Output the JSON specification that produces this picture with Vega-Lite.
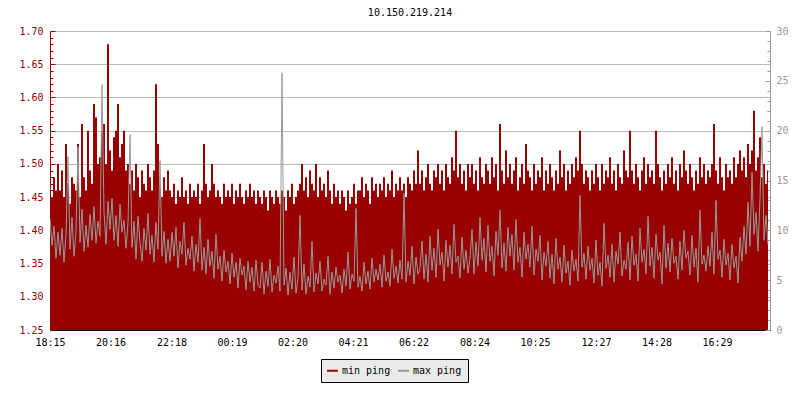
{
"$schema": "https://vega.github.io/schema/vega-lite/v6.json",
"width": 720,
"height": 299,
"autosize": {"type": "none"},
"padding": {"left": 50, "top": 31, "right": 30, "bottom": 70},
"background": "white",
"title": {"text": "10.150.219.214", "font": "DejaVu Sans Mono", "fontSize": 10, "fontWeight": "normal", "color": "black", "offset": 8},
"data": {"values": [
{"t":0,"min":1.47,"max":11.2},{"t":4,"min":1.45,"max":8.5},{"t":8,"min":1.48,"max":10.4},{"t":12,"min":1.46,"max":7.2},{"t":16,"min":1.50,"max":9.8},
{"t":20,"min":1.46,"max":7.5},{"t":24,"min":1.49,"max":10.2},{"t":28,"min":1.45,"max":6.8},{"t":32,"min":1.53,"max":9.6},{"t":36,"min":1.47,"max":17.4},
{"t":40,"min":1.44,"max":8.1},{"t":44,"min":1.48,"max":11.3},{"t":48,"min":1.47,"max":7.4},{"t":52,"min":1.46,"max":9.9},{"t":56,"min":1.53,"max":18.4},
{"t":60,"min":1.45,"max":8.8},{"t":64,"min":1.56,"max":12.1},{"t":68,"min":1.48,"max":7.9},{"t":72,"min":1.46,"max":10.5},{"t":76,"min":1.55,"max":8.3},
{"t":80,"min":1.49,"max":11.6},{"t":84,"min":1.47,"max":9.0},{"t":88,"min":1.59,"max":12.4},{"t":92,"min":1.57,"max":8.7},{"t":96,"min":1.50,"max":10.9},
{"t":100,"min":1.51,"max":9.4},{"t":104,"min":1.55,"max":24.6},{"t":108,"min":1.56,"max":11.8},{"t":112,"min":1.50,"max":8.6},{"t":116,"min":1.68,"max":12.9},
{"t":120,"min":1.52,"max":10.1},{"t":124,"min":1.49,"max":13.2},{"t":128,"min":1.54,"max":9.0},{"t":132,"min":1.55,"max":11.5},{"t":136,"min":1.59,"max":8.4},
{"t":140,"min":1.51,"max":12.6},{"t":144,"min":1.53,"max":9.8},{"t":148,"min":1.55,"max":11.0},{"t":152,"min":1.49,"max":8.2},{"t":156,"min":1.50,"max":10.7},
{"t":160,"min":1.47,"max":19.6},{"t":164,"min":1.49,"max":8.3},{"t":168,"min":1.46,"max":10.9},{"t":172,"min":1.50,"max":7.1},{"t":176,"min":1.48,"max":11.4},
{"t":180,"min":1.45,"max":8.8},{"t":184,"min":1.49,"max":6.9},{"t":188,"min":1.47,"max":10.2},{"t":192,"min":1.46,"max":8.0},{"t":196,"min":1.50,"max":11.7},
{"t":200,"min":1.48,"max":7.6},{"t":204,"min":1.46,"max":9.5},{"t":208,"min":1.49,"max":6.8},{"t":212,"min":1.62,"max":10.8},{"t":216,"min":1.53,"max":8.1},
{"t":220,"min":1.47,"max":17.0},{"t":224,"min":1.45,"max":7.4},{"t":228,"min":1.48,"max":9.9},{"t":232,"min":1.46,"max":6.7},{"t":236,"min":1.49,"max":9.1},
{"t":240,"min":1.46,"max":6.9},{"t":244,"min":1.45,"max":9.8},{"t":248,"min":1.47,"max":7.4},{"t":252,"min":1.44,"max":10.3},{"t":256,"min":1.46,"max":6.2},
{"t":260,"min":1.45,"max":8.9},{"t":264,"min":1.48,"max":7.6},{"t":268,"min":1.45,"max":10.8},{"t":272,"min":1.46,"max":6.5},{"t":276,"min":1.44,"max":8.2},
{"t":280,"min":1.47,"max":7.1},{"t":284,"min":1.45,"max":9.4},{"t":288,"min":1.46,"max":5.9},{"t":292,"min":1.45,"max":8.6},{"t":296,"min":1.47,"max":6.8},
{"t":300,"min":1.44,"max":11.2},{"t":304,"min":1.46,"max":6.0},{"t":308,"min":1.53,"max":8.3},{"t":312,"min":1.47,"max":5.6},{"t":316,"min":1.45,"max":9.1},
{"t":320,"min":1.46,"max":6.4},{"t":324,"min":1.50,"max":7.9},{"t":328,"min":1.47,"max":5.2},{"t":332,"min":1.45,"max":9.6},{"t":336,"min":1.46,"max":6.1},
{"t":340,"min":1.45,"max":7.4},{"t":344,"min":1.44,"max":4.9},{"t":348,"min":1.47,"max":8.0},{"t":352,"min":1.45,"max":5.8},{"t":356,"min":1.46,"max":6.9},
{"t":360,"min":1.45,"max":4.6},{"t":364,"min":1.47,"max":7.7},{"t":368,"min":1.44,"max":5.3},{"t":372,"min":1.46,"max":6.8},{"t":376,"min":1.45,"max":4.2},
{"t":380,"min":1.47,"max":7.2},{"t":384,"min":1.45,"max":5.5},{"t":388,"min":1.44,"max":6.4},{"t":392,"min":1.46,"max":4.0},{"t":396,"min":1.45,"max":6.9},
{"t":400,"min":1.47,"max":4.8},{"t":404,"min":1.45,"max":6.3},{"t":408,"min":1.46,"max":3.9},{"t":412,"min":1.44,"max":7.0},{"t":416,"min":1.46,"max":4.5},
{"t":420,"min":1.45,"max":4.2},{"t":424,"min":1.44,"max":6.8},{"t":428,"min":1.46,"max":3.6},{"t":432,"min":1.45,"max":5.9},{"t":436,"min":1.43,"max":4.4},
{"t":440,"min":1.46,"max":7.1},{"t":444,"min":1.45,"max":3.8},{"t":448,"min":1.44,"max":5.5},{"t":452,"min":1.46,"max":4.7},{"t":456,"min":1.45,"max":6.4},
{"t":460,"min":1.44,"max":3.9},{"t":464,"min":1.46,"max":25.8},{"t":468,"min":1.45,"max":4.5},{"t":472,"min":1.43,"max":6.2},{"t":476,"min":1.46,"max":3.5},
{"t":480,"min":1.45,"max":5.8},{"t":484,"min":1.47,"max":4.1},{"t":488,"min":1.44,"max":7.3},{"t":492,"min":1.45,"max":3.7},{"t":496,"min":1.46,"max":5.2},
{"t":500,"min":1.47,"max":11.5},{"t":504,"min":1.50,"max":4.0},{"t":508,"min":1.46,"max":6.6},{"t":512,"min":1.48,"max":3.6},{"t":516,"min":1.45,"max":5.4},
{"t":520,"min":1.49,"max":4.3},{"t":524,"min":1.47,"max":8.9},{"t":528,"min":1.46,"max":3.8},{"t":532,"min":1.50,"max":5.7},{"t":536,"min":1.45,"max":4.6},
{"t":540,"min":1.48,"max":6.9},{"t":544,"min":1.46,"max":3.9},{"t":548,"min":1.47,"max":5.1},{"t":552,"min":1.45,"max":4.5},{"t":556,"min":1.49,"max":7.4},
{"t":560,"min":1.46,"max":3.6},{"t":564,"min":1.44,"max":5.8},{"t":568,"min":1.47,"max":4.2},{"t":572,"min":1.45,"max":6.3},{"t":576,"min":1.46,"max":4.8},
{"t":580,"min":1.44,"max":5.5},{"t":584,"min":1.46,"max":3.7},{"t":588,"min":1.45,"max":6.1},{"t":592,"min":1.43,"max":4.4},{"t":596,"min":1.46,"max":7.8},
{"t":600,"min":1.44,"max":4.1},{"t":604,"min":1.45,"max":5.6},{"t":608,"min":1.47,"max":4.9},{"t":612,"min":1.44,"max":12.2},{"t":616,"min":1.46,"max":4.3},
{"t":620,"min":1.46,"max":5.4},{"t":624,"min":1.48,"max":3.9},{"t":628,"min":1.45,"max":6.8},{"t":632,"min":1.47,"max":4.6},{"t":636,"min":1.46,"max":5.9},
{"t":640,"min":1.44,"max":4.1},{"t":644,"min":1.48,"max":7.2},{"t":648,"min":1.46,"max":4.8},{"t":652,"min":1.47,"max":6.1},{"t":656,"min":1.45,"max":5.0},
{"t":660,"min":1.47,"max":6.6},{"t":664,"min":1.46,"max":4.3},{"t":668,"min":1.48,"max":7.5},{"t":672,"min":1.45,"max":4.9},{"t":676,"min":1.47,"max":5.8},
{"t":680,"min":1.46,"max":4.4},{"t":684,"min":1.49,"max":8.1},{"t":688,"min":1.45,"max":5.2},{"t":692,"min":1.47,"max":6.4},{"t":696,"min":1.46,"max":4.7},
{"t":700,"min":1.48,"max":7.0},{"t":704,"min":1.46,"max":5.1},{"t":708,"min":1.47,"max":13.7},{"t":712,"min":1.45,"max":4.8},{"t":716,"min":1.48,"max":6.9},
{"t":720,"min":1.47,"max":5.5},{"t":724,"min":1.46,"max":8.4},{"t":728,"min":1.49,"max":4.6},{"t":732,"min":1.47,"max":7.3},{"t":736,"min":1.52,"max":5.6},
{"t":740,"min":1.47,"max":6.2},{"t":744,"min":1.49,"max":8.9},{"t":748,"min":1.46,"max":5.1},{"t":752,"min":1.48,"max":7.6},{"t":756,"min":1.50,"max":4.8},
{"t":760,"min":1.47,"max":9.4},{"t":764,"min":1.46,"max":6.0},{"t":768,"min":1.49,"max":8.2},{"t":772,"min":1.48,"max":5.3},{"t":776,"min":1.50,"max":10.1},
{"t":780,"min":1.47,"max":6.5},{"t":784,"min":1.49,"max":7.8},{"t":788,"min":1.46,"max":4.9},{"t":792,"min":1.50,"max":9.0},{"t":796,"min":1.48,"max":6.3},
{"t":800,"min":1.47,"max":8.5},{"t":804,"min":1.51,"max":5.6},{"t":808,"min":1.49,"max":10.6},{"t":812,"min":1.55,"max":6.8},{"t":816,"min":1.48,"max":7.4},
{"t":820,"min":1.50,"max":5.2},{"t":824,"min":1.47,"max":9.3},{"t":828,"min":1.49,"max":6.1},{"t":832,"min":1.46,"max":8.0},{"t":836,"min":1.50,"max":5.7},
{"t":840,"min":1.48,"max":7.2},{"t":844,"min":1.50,"max":10.1},{"t":848,"min":1.47,"max":5.6},{"t":852,"min":1.49,"max":8.8},{"t":856,"min":1.46,"max":6.4},
{"t":860,"min":1.51,"max":11.3},{"t":864,"min":1.48,"max":7.0},{"t":868,"min":1.47,"max":9.2},{"t":872,"min":1.50,"max":5.8},{"t":876,"min":1.49,"max":10.5},
{"t":880,"min":1.47,"max":6.9},{"t":884,"min":1.51,"max":8.4},{"t":888,"min":1.48,"max":5.4},{"t":892,"min":1.50,"max":9.9},{"t":896,"min":1.46,"max":7.5},
{"t":900,"min":1.56,"max":12.0},{"t":904,"min":1.49,"max":6.2},{"t":908,"min":1.47,"max":8.7},{"t":912,"min":1.52,"max":5.9},{"t":916,"min":1.48,"max":10.3},
{"t":920,"min":1.50,"max":7.4},{"t":924,"min":1.47,"max":9.6},{"t":928,"min":1.49,"max":6.0},{"t":932,"min":1.51,"max":11.1},{"t":936,"min":1.46,"max":6.8},
{"t":940,"min":1.48,"max":8.3},{"t":944,"min":1.50,"max":5.3},{"t":948,"min":1.47,"max":9.8},{"t":952,"min":1.53,"max":7.1},{"t":956,"min":1.49,"max":8.6},
{"t":960,"min":1.48,"max":6.3},{"t":964,"min":1.46,"max":10.4},{"t":968,"min":1.50,"max":5.5},{"t":972,"min":1.47,"max":8.1},{"t":976,"min":1.49,"max":6.9},
{"t":980,"min":1.48,"max":9.5},{"t":984,"min":1.51,"max":5.0},{"t":988,"min":1.46,"max":7.8},{"t":992,"min":1.49,"max":6.4},{"t":996,"min":1.47,"max":8.9},
{"t":1000,"min":1.50,"max":5.2},{"t":1004,"min":1.48,"max":7.6},{"t":1008,"min":1.46,"max":4.6},{"t":1012,"min":1.49,"max":9.2},{"t":1016,"min":1.47,"max":6.1},
{"t":1020,"min":1.52,"max":7.3},{"t":1024,"min":1.48,"max":4.8},{"t":1028,"min":1.50,"max":8.5},{"t":1032,"min":1.46,"max":5.7},{"t":1036,"min":1.49,"max":6.9},
{"t":1040,"min":1.47,"max":4.5},{"t":1044,"min":1.50,"max":8.0},{"t":1048,"min":1.48,"max":5.9},{"t":1052,"min":1.51,"max":7.1},{"t":1056,"min":1.49,"max":4.9},
{"t":1060,"min":1.55,"max":13.5},{"t":1064,"min":1.50,"max":6.3},{"t":1068,"min":1.47,"max":7.7},{"t":1072,"min":1.49,"max":5.1},{"t":1076,"min":1.48,"max":8.4},
{"t":1080,"min":1.46,"max":6.0},{"t":1084,"min":1.49,"max":7.2},{"t":1088,"min":1.47,"max":4.7},{"t":1092,"min":1.50,"max":9.0},{"t":1096,"min":1.48,"max":5.5},
{"t":1100,"min":1.46,"max":6.8},{"t":1104,"min":1.50,"max":4.4},{"t":1108,"min":1.47,"max":10.7},{"t":1112,"min":1.49,"max":6.2},{"t":1116,"min":1.48,"max":7.5},
{"t":1120,"min":1.51,"max":5.3},{"t":1124,"min":1.47,"max":8.6},{"t":1128,"min":1.49,"max":4.8},{"t":1132,"min":1.46,"max":7.9},{"t":1136,"min":1.50,"max":6.6},
{"t":1140,"min":1.48,"max":9.8},{"t":1144,"min":1.47,"max":5.4},{"t":1148,"min":1.52,"max":7.0},{"t":1152,"min":1.49,"max":6.1},{"t":1156,"min":1.48,"max":8.8},
{"t":1160,"min":1.55,"max":5.0},{"t":1164,"min":1.49,"max":9.4},{"t":1168,"min":1.47,"max":6.5},{"t":1172,"min":1.50,"max":7.6},{"t":1176,"min":1.48,"max":4.9},
{"t":1180,"min":1.46,"max":10.2},{"t":1184,"min":1.49,"max":6.8},{"t":1188,"min":1.51,"max":8.1},{"t":1192,"min":1.47,"max":5.6},{"t":1196,"min":1.50,"max":11.4},
{"t":1200,"min":1.48,"max":6.4},{"t":1204,"min":1.49,"max":8.3},{"t":1208,"min":1.47,"max":5.2},{"t":1212,"min":1.55,"max":9.6},{"t":1216,"min":1.50,"max":7.0},
{"t":1220,"min":1.48,"max":7.8},{"t":1224,"min":1.46,"max":4.6},{"t":1228,"min":1.49,"max":10.5},{"t":1232,"min":1.47,"max":6.2},{"t":1236,"min":1.50,"max":8.7},
{"t":1240,"min":1.48,"max":5.8},{"t":1244,"min":1.51,"max":9.2},{"t":1248,"min":1.47,"max":6.7},{"t":1252,"min":1.49,"max":7.4},{"t":1256,"min":1.46,"max":5.1},
{"t":1260,"min":1.50,"max":8.9},{"t":1264,"min":1.48,"max":6.0},{"t":1268,"min":1.52,"max":10.0},{"t":1272,"min":1.49,"max":7.2},{"t":1276,"min":1.47,"max":7.9},
{"t":1280,"min":1.50,"max":5.5},{"t":1284,"min":1.48,"max":9.5},{"t":1288,"min":1.46,"max":6.3},{"t":1292,"min":1.49,"max":8.2},{"t":1296,"min":1.47,"max":4.8},
{"t":1300,"min":1.51,"max":12.0},{"t":1304,"min":1.48,"max":6.6},{"t":1308,"min":1.50,"max":7.5},{"t":1312,"min":1.47,"max":5.9},{"t":1316,"min":1.49,"max":8.4},
{"t":1320,"min":1.48,"max":6.4},{"t":1324,"min":1.50,"max":9.8},{"t":1328,"min":1.56,"max":5.6},{"t":1332,"min":1.49,"max":13.0},{"t":1336,"min":1.47,"max":7.1},
{"t":1340,"min":1.51,"max":8.0},{"t":1344,"min":1.48,"max":5.3},{"t":1348,"min":1.46,"max":9.1},{"t":1352,"min":1.50,"max":6.5},{"t":1356,"min":1.48,"max":7.7},
{"t":1360,"min":1.49,"max":5.0},{"t":1364,"min":1.47,"max":8.6},{"t":1368,"min":1.51,"max":6.2},{"t":1372,"min":1.48,"max":7.4},{"t":1376,"min":1.50,"max":4.7},
{"t":1380,"min":1.52,"max":9.3},{"t":1384,"min":1.49,"max":6.9},{"t":1388,"min":1.51,"max":10.4},{"t":1392,"min":1.48,"max":7.6},{"t":1396,"min":1.53,"max":12.8},
{"t":1400,"min":1.50,"max":8.4},{"t":1404,"min":1.52,"max":15.8},{"t":1408,"min":1.58,"max":9.6},{"t":1412,"min":1.49,"max":11.8},{"t":1416,"min":1.51,"max":7.9},
{"t":1420,"min":1.54,"max":13.2},{"t":1424,"min":1.48,"max":20.4},{"t":1428,"min":1.50,"max":9.0},{"t":1432,"min":1.47,"max":11.5},{"t":1436,"min":1.49,"max":8.6}
]},
"layer": [
{
"mark": {"type": "area", "interpolate": "step", "clip": true},
"encoding": {
"x": {"field": "t", "type": "quantitative", "scale": {"domain": [0, 1440], "nice": false, "zero": false},
 "axis": {"title": null, "values": [0,121,243,364,485,606,727,849,970,1092,1213,1334], "labelExpr": "timeFormat(datetime(2021,0,1,18,15+datum.value),'%H:%M')", "grid": false, "domainColor": "black", "tickColor": "black", "tickSize": -5, "labelPadding": 12, "labelColor": "black", "labelFont": "DejaVu Sans Mono", "labelFontSize": 10, "labelFlush": false, "labelOverlap": false}},
"y": {"field": "min", "type": "quantitative", "scale": {"domain": [1.25, 1.70], "nice": false, "zero": false},
 "axis": {"title": null, "orient": "left", "values": [1.25,1.26,1.27,1.28,1.29,1.30,1.31,1.32,1.33,1.34,1.35,1.36,1.37,1.38,1.39,1.40,1.41,1.42,1.43,1.44,1.45,1.46,1.47,1.48,1.49,1.50,1.51,1.52,1.53,1.54,1.55,1.56,1.57,1.58,1.59,1.60,1.61,1.62,1.63,1.64,1.65,1.66,1.67,1.68,1.69,1.70],
  "labelExpr": "abs(datum.value*20 - round(datum.value*20)) < 0.01 ? format(datum.value, '.2f') : ''",
  "tickSize": {"condition": {"test": "abs(datum.value*20 - round(datum.value*20)) < 0.01", "value": -5}, "value": -3},
  "gridOpacity": {"condition": {"test": "abs(datum.value*20 - round(datum.value*20)) < 0.01", "value": 1}, "value": 0},
  "grid": true, "gridColor": "#bbbbbb", "domainColor": "#990000", "tickColor": "#990000", "labelColor": "#990000", "labelPadding": 12, "labelFont": "DejaVu Sans Mono", "labelFontSize": 10, "labelOverlap": false, "labelFlush": false}},
"y2": {"datum": 1.25},
"color": {"datum": "min ping", "type": "nominal", "scale": {"domain": ["min ping", "max ping"], "range": ["#990000", "#999999"]},
 "legend": {"orient": "none", "legendX": 271, "legendY": 328, "direction": "horizontal", "title": null, "fillColor": "#ebebeb", "strokeColor": "black", "padding": 6, "labelFont": "DejaVu Sans Mono", "labelFontSize": 10, "labelColor": "black", "symbolType": "M-1,-0.18H1V0.18H-1Z", "symbolSize": 121, "symbolStrokeWidth": 0, "labelOffset": 4, "columnPadding": 7,
  "labelExpr": "datum.value == 'max ping' ? datum.label + '\u00a0\u00a0' : datum.label",
  "encode": {"symbols": {"update": {"fill": {"scale": "color", "field": "value"}, "stroke": {"value": "transparent"}, "opacity": {"value": 1}}},
             "labels": {"update": {"fill": {"value": "black"}}}}}}
}
},
{
"mark": {"type": "line", "strokeWidth": 1, "clip": true},
"encoding": {
"x": {"field": "t", "type": "quantitative"},
"y": {"field": "max", "type": "quantitative", "scale": {"domain": [0, 30], "nice": false},
 "axis": {"title": null, "orient": "right", "values": [0,1,2,3,4,5,6,7,8,9,10,11,12,13,14,15,16,17,18,19,20,21,22,23,24,25,26,27,28,29,30],
  "labelExpr": "datum.value % 5 === 0 ? datum.label : ''",
  "tickSize": {"condition": {"test": "datum.value % 5 === 0", "value": -5}, "value": -3},
  "grid": false, "domainColor": "#999999", "tickColor": "#999999", "labelColor": "#999999", "labelPadding": 11, "labelFont": "DejaVu Sans Mono", "labelFontSize": 10, "labelOverlap": false, "labelFlush": false}},
"color": {"datum": "max ping", "type": "nominal"}
}
}
],
"resolve": {"scale": {"y": "independent"}},
"config": {"view": {"stroke": null}, "font": "DejaVu Sans Mono"}
}
